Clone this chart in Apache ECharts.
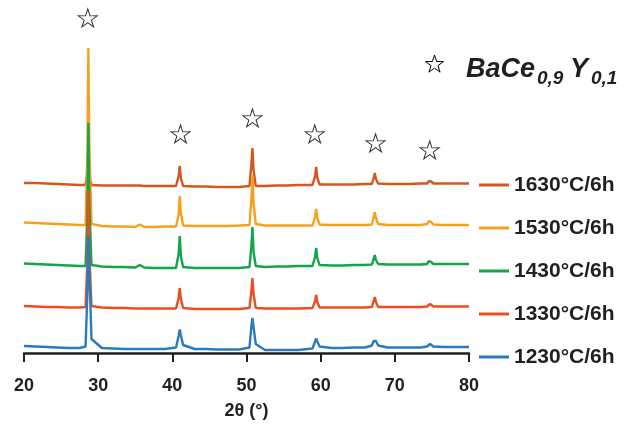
<!DOCTYPE html>
<html>
<head>
<meta charset="utf-8">
<script src="https://cdn.jsdelivr.net/npm/echarts@6/dist/echarts.min.js"></script>
<style>
html,body{margin:0;padding:0;background:#fff;}
#chart{width:626px;height:427px;}
</style>
</head>
<body>
<div id="chart"></div>
<script>
// 2θ positions (degrees)
var twoTheta = [20, 21.5, 23, 24.5, 26, 27.5, 28.3, 28.55, 28.68, 28.8, 29.1,
  30.5, 32, 33.5, 35, 35.6, 36.2, 37.5, 39, 40.5, 40.85, 41.0, 41.15, 41.45,
  43, 44.5, 46, 47.5, 49, 50.4, 50.65, 50.8, 50.95, 51.25,
  52.5, 54, 55.5, 57, 58.9, 59.25, 59.4, 59.55, 59.85,
  61.5, 63, 64.5, 66, 66.9, 67.15, 67.3, 67.45, 67.75,
  69, 70.5, 72, 73.5, 74.35, 74.6, 74.75, 74.9, 75.2,
  76.5, 78, 80];

var seriesNames = ['1630°C/6h', '1530°C/6h', '1430°C/6h', '1330°C/6h', '1230°C/6h'];
// vertical stacking offsets for each pattern
var offsets = [163, 122, 81, 41, 0];

var i1630 = [7, 7, 6.5, 6, 5.5, 5, 5, 18, 25, 14, 5,
  4.5, 4.5, 4.5, 4.5, 4.5, 4, 4, 4, 4, 14, 24, 12, 4,
  3.5, 3.5, 3, 3, 3, 4, 25, 42, 20, 4,
  4, 4.5, 4.5, 5, 5, 14, 23, 12, 5.5,
  5.5, 5.5, 5.5, 6, 6, 12, 17, 11, 6.5,
  6, 6, 6, 6.5, 6.5, 9, 10.5, 8.5, 6.5,
  6.5, 6.5, 6.5];
var i1530 = [8.5, 8, 7.5, 7, 6.5, 6, 6, 80, 183, 90, 7,
  5, 4.5, 4.5, 4, 6.5, 4, 4, 4.5, 4.5, 16, 35, 18, 5.5,
  5, 5, 5, 5, 5.5, 6, 30, 56, 28, 7,
  5.5, 5.5, 5.5, 5.5, 5.5, 14, 22, 13, 6.5,
  6, 6, 6, 6, 6.5, 14, 19, 13, 7,
  6, 6, 6, 6, 7, 10, 12, 9, 6.5,
  6, 6, 6];
var i1430 = [8.5, 8, 7.5, 7, 6.5, 6, 6, 60, 149, 70, 7,
  5.5, 5, 5, 4.5, 7, 4.5, 4, 4, 4, 18, 36, 16, 5,
  4, 4, 4, 4, 4, 5, 25, 45, 20, 6,
  5, 5.5, 5.5, 6, 6, 15, 24, 14, 7,
  6.5, 6.5, 7, 7, 7.5, 13, 17, 12, 8,
  7.5, 7.5, 7.5, 7.5, 8, 11, 13, 10, 8,
  8, 8, 8];
var i1330 = [6, 5.5, 5, 5, 4.5, 4.5, 5, 50, 122, 60, 6,
  4.5, 4, 4, 3.5, 3.5, 3.5, 3.5, 3.5, 3.5, 14, 24, 13, 4,
  3, 3, 3, 3, 3, 4, 20, 34, 18, 4,
  3.5, 3.5, 3.5, 3.5, 4, 11, 17, 10, 4.5,
  4.5, 4.5, 4.5, 4.5, 5, 11, 15, 10, 5,
  5, 5, 5, 5, 5.5, 7, 8, 7, 5.5,
  5.5, 5.5, 5.5];
var i1230 = [7, 6.5, 6, 5.5, 5, 5, 6.5, 60, 117, 85, 14,
  5, 4.5, 4, 4, 4, 4, 4, 4, 5.5, 17, 23.5, 18, 8,
  4, 4, 3.5, 3.5, 3.5, 5.5, 26, 35, 26, 9,
  3, 3, 3, 3, 4.5, 11.5, 14.5, 11.5, 6.5,
  5, 5, 5.5, 5.5, 7.5, 12, 13.5, 12, 7.5,
  5.5, 5.5, 5.5, 5.5, 6.5, 8.5, 9, 8.5, 6.5,
  6, 6, 6];
var intensities = [i1630, i1530, i1430, i1330, i1230];

// BaCe0.9Y0.1 reflection markers (stars)
var starTheta = [28.6, 41.1, 50.8, 59.2, 67.4, 74.7];
var starLevel = [335, 219, 235, 219, 210, 203];

var xTicks = [20, 30, 40, 50, 60, 70, 80];

var colors = ['#D4571F', '#F8A01C', '#12A54A', '#EE4D22', '#2A7AC0'];
var STAR_PTS = [[50,0],[61.2,34.6],[97.6,34.5],[68.1,55.9],[79.4,90.5],[50,69],[20.6,90.5],[31.9,55.9],[2.4,34.5],[38.8,34.6]];
var STAR = 'path://M' + STAR_PTS.map(function (p) { return p[0] + ' ' + p[1]; }).join(' L') + ' Z';
var FONT = '"Liberation Sans", Arial, Helvetica, sans-serif';
var TXT = '#231F20';

var series = seriesNames.map(function (name, k) {
  return {
    name: name,
    type: 'line',
    color: colors[k],
    showSymbol: false,
    symbol: 'none',
    lineStyle: { width: 2.4, color: colors[k] },
    data: twoTheta.map(function (x, i) { return [x, intensities[k][i] + offsets[k]]; }),
    z: 2 + k
  };
});
series.push({
  name: 'stars',
  type: 'scatter',
  symbol: STAR,
  symbolSize: [19, 18],
  clip: false,
  itemStyle: { color: '#ffffff', borderColor: '#000000', borderWidth: 1 },
  data: starTheta.map(function (x, i) { return [x, starLevel[i]]; }),
  z: 20
});

var legendStar = STAR_PTS.map(function (p) { return [425 + p[0] * 0.19, 55 + p[1] * 0.19]; });

var chart = echarts.init(document.getElementById('chart'), null, { renderer: 'canvas' });
chart.setOption({
  animation: false,
  backgroundColor: '#ffffff',
  grid: { left: 24, right: 157, top: 5, bottom: 74, containLabel: false },
  xAxis: {
    type: 'value',
    min: xTicks[0],
    max: xTicks[xTicks.length - 1],
    interval: 10,
    name: '2θ (°)',
    nameLocation: 'middle',
    nameGap: 49,
    nameTextStyle: { fontFamily: FONT, fontWeight: 'bold', fontSize: 18, color: TXT },
    axisLine: { show: true, onZero: false, lineStyle: { color: TXT, width: 2.5 } },
    axisTick: { show: true, inside: false, length: 9, lineStyle: { color: TXT, width: 2 } },
    axisLabel: { margin: 24, fontFamily: FONT, fontWeight: 'bold', fontSize: 18, color: TXT },
    splitLine: { show: false }
  },
  yAxis: {
    type: 'value', min: 0, max: 348, show: false,
    splitLine: { show: false }
  },
  legend: {
    data: seriesNames,
    orient: 'vertical',
    left: 479,
    top: 173,
    padding: 0,
    itemGap: 19,
    itemWidth: 30,
    itemHeight: 3,
    icon: 'rect',
    textStyle: { fontFamily: FONT, fontWeight: 'bold', fontSize: 21, color: TXT, lineHeight: 24 }
  },
  graphic: [
    { type: 'polygon', shape: { points: legendStar },
      style: { fill: '#ffffff', stroke: '#000000', lineWidth: 1 } },
    { type: 'text', x: 466, y: 70, style: { text: 'BaCe', font: 'italic bold 27px ' + FONT, fill: TXT, verticalAlign: 'middle', align: 'left' } },
    { type: 'text', x: 537, y: 79, style: { text: '0,9', font: 'italic bold 19px ' + FONT, fill: TXT, verticalAlign: 'middle', align: 'left' } },
    { type: 'text', x: 570, y: 70, style: { text: 'Y', font: 'italic bold 27px ' + FONT, fill: TXT, verticalAlign: 'middle', align: 'left' } },
    { type: 'text', x: 591, y: 79, style: { text: '0,1', font: 'italic bold 19px ' + FONT, fill: TXT, verticalAlign: 'middle', align: 'left' } }
  ],
  series: series
});
</script>
</body>
</html>
